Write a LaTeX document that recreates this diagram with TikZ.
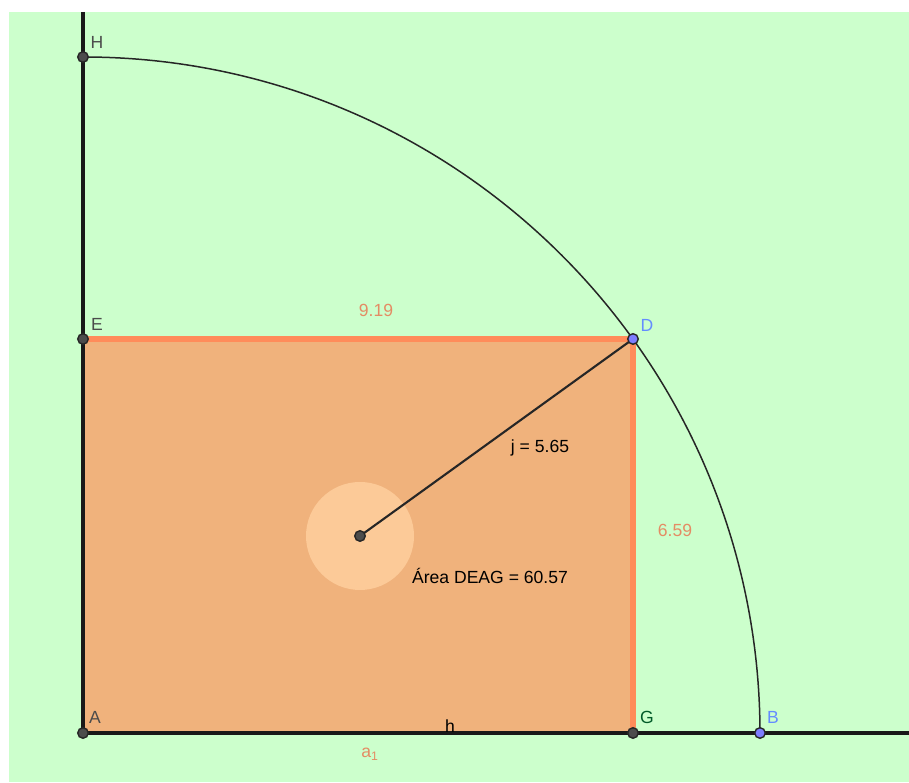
\documentclass[tikz,border=0pt]{standalone}
\usepackage{fontspec}
\setmainfont{Liberation Sans}
\definecolor{bggreen}{RGB}{204,255,204}
\definecolor{polyfill}{RGB}{240,178,124}
\definecolor{polyedge}{RGB}{255,140,90}
\definecolor{valtext}{RGB}{228,140,100}
\definecolor{ptblue}{RGB}{125,125,255}
\definecolor{lblblue}{RGB}{100,140,255}
\definecolor{lblgreen}{RGB}{0,90,40}
\definecolor{spot}{RGB}{252,202,152}

\begin{document}
\begin{tikzpicture}[x=0.02cm, y=0.02cm, font=\fontsize{10}{12}\selectfont,
  pt/.style={circle, draw=black!85, fill=black!70, line width=0.8pt,
    inner sep=0pt, minimum size=6pt},
  bluept/.style={pt, fill=ptblue},
  lbl/.style={text=black!70, inner sep=0pt},
  val/.style={text=valtext, inner sep=0pt}]
  \useasboundingbox (0,0) rectangle (909,783);
  \fill[bggreen] (9,1) rectangle (909,771);
  % points
  \coordinate (A) at (83,50);
  \coordinate (G) at (633,50);
  \coordinate (B) at (760,50);
  \coordinate (D) at (633,444);
  \coordinate (E) at (83,444);
  \coordinate (H) at (83,726);
  \coordinate (M) at (360,247);
  \coordinate (ytop) at (83,771);
  \coordinate (xend) at (909,50);
  % rectangle DEAG
  \fill[polyfill] (A) -- (G) -- (D) -- (E) -- cycle;
  \fill[spot] (M) circle[radius=54];
  \draw[polyedge, line width=3.4pt] (E) -- (D) -- (G);
  % axes and arc
  \draw[black!90, line width=2.1pt] (ytop) -- (A) -- (xend);
  \draw[black!85, line width=0.85pt] (H) arc[start angle=90, end angle=0, radius=677];
  \draw[black!85, line width=1.2pt] (M) -- (D);
  \node[pt] (pA) at (A) {};
  \node[pt] (pG) at (G) {};
  \node[pt] (pE) at (E) {};
  \node[pt] (pH) at (H) {};
  \node[pt] (pM) at (M) {};
  \node[bluept] (pD) at (D) {};
  \node[bluept] (pB) at (B) {};
  % labels
  \node[lbl] (labH) at (97,741) {H};
  \node[lbl] (labE) at (97,459) {E};
  \node[lbl] (labA) at (95,66) {A};
  \node[lbl, text=lblgreen] (labG) at (647,66) {G};
  \node[lbl, text=lblblue] (labB) at (773,66) {B};
  \node[lbl, text=lblblue] (labD) at (647,458) {D};
  \node[val] (top) at (376,473) {9.19};
  \node[val] (side) at (675,253) {6.59};
  \node[val] (base) at (370,29) {a\textsubscript{1}};
  \node[lbl, text=black] (labh) at (450,57) {h};
  \node[lbl, text=black] (labj) at (540,335) {j = 5.65};
  \node[lbl, text=black] (area) at (490,207) {Área DEAG = 60.57};
\end{tikzpicture}
\end{document}
